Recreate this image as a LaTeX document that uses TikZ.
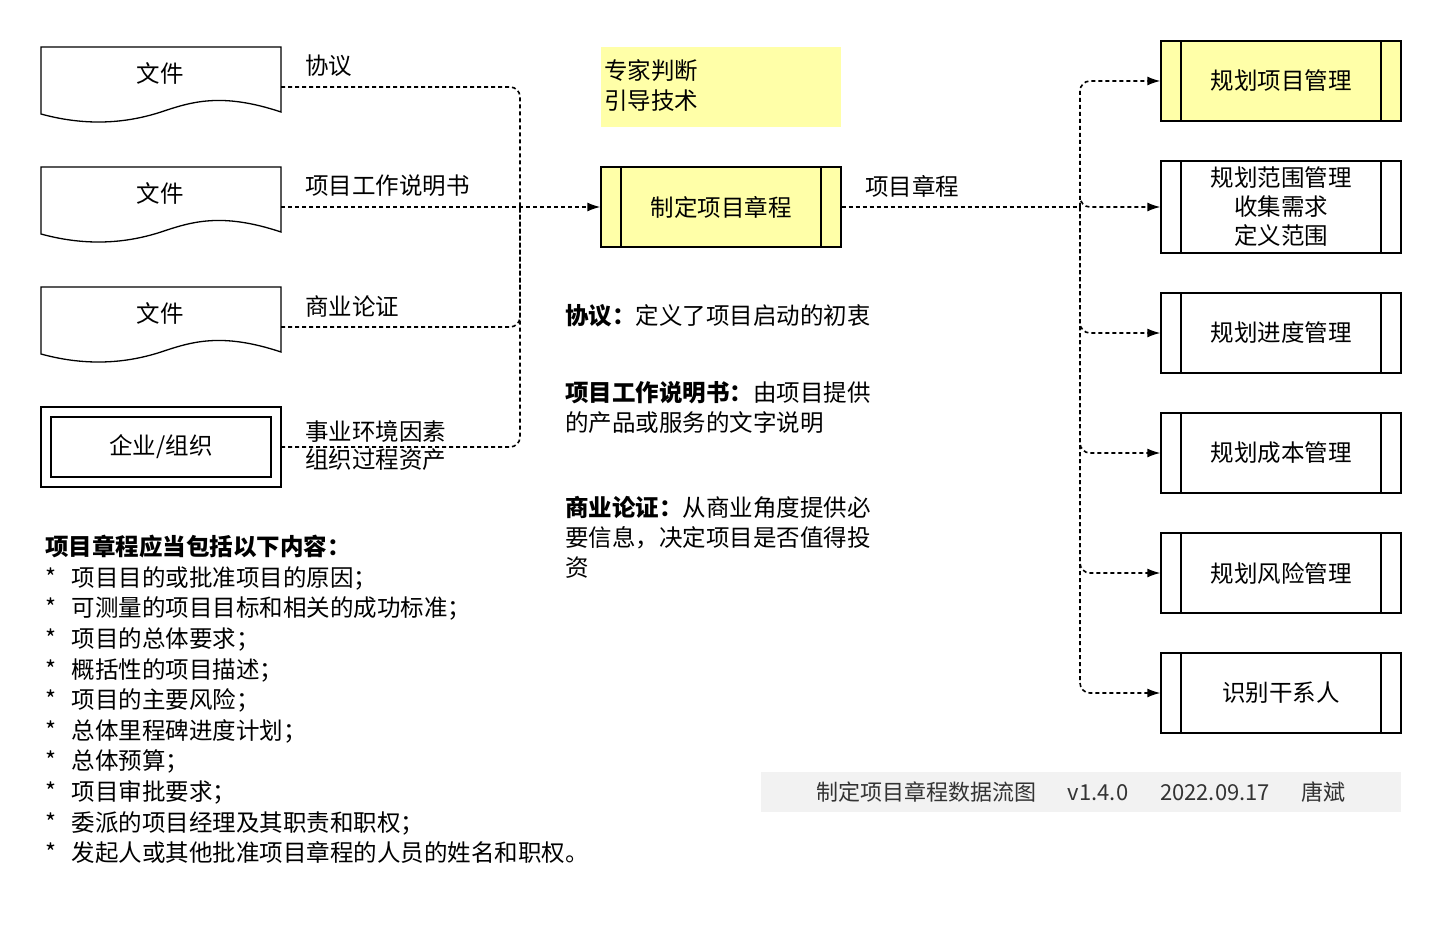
\documentclass[tikz,border=0pt]{standalone}
\usepackage{fontspec}
\setmainfont{Noto Sans CJK SC}
\usetikzlibrary{arrows.meta}
\definecolor{ylw}{HTML}{FFFFA8}
\definecolor{ftr}{HTML}{F2F2F2}
\begin{document}
\begin{tikzpicture}[x=1pt,y=-1pt,font=\fontsize{23.5}{30}\selectfont,
  box/.style={draw,line width=1.3pt,minimum width=240pt,minimum height=80pt,inner sep=0},
  lbl/.style={anchor=west,inner sep=0},
  dl/.style={dash pattern=on 4pt off 3pt,line width=1.6pt,rounded corners=10pt},
  arr/.style={dl,-{Latex[length=13pt,width=9pt]}}]
\useasboundingbox (0,0) rectangle (1442,928);
% documents
\foreach \n/\y in {d1/47,d2/167,d3/287}{
  \draw[line width=1.3pt,fill=white] (41,\y) -- (281,\y) -- (281,\y+65)
    .. controls (221,\y+45) and (191,\y+55) .. (161,\y+65)
    .. controls (121,\y+78) and (81,\y+78) .. (41,\y+67) -- cycle;
  \node (\n) at (160,\y+26) {文件};
}
\node[box,minimum height=80pt] (ent) at (161,447) {};
\node[draw,line width=1.3pt,minimum width=220pt,minimum height=60pt] (enti) at (161,447) {企业/组织};
% labels
\node[lbl] (l1) at (305,66) {协议};
\node[lbl] (l2) at (305,186) {项目工作说明书};
\node[lbl] (l3) at (305,306) {商业论证};
\node[lbl,align=left,font=\fontsize{23.5}{28}\selectfont] (l4) at (305,446) {事业环境因素\\组织过程资产};
% expert
\node[fill=ylw,minimum width=240pt,minimum height=80pt] (exp) at (721,87) {};
\node[lbl,align=left] (expt) at (604,86) {专家判断\\引导技术};
% center
\node[box,fill=ylw] (c) at (721,207) {制定项目章程};
\draw[line width=1.3pt] (621,167) -- (621,247) (821,167) -- (821,247);
\node[lbl] (l5) at (865,186) {项目章程};
\coordinate (m) at (520,207);
\draw[dl] (281,87) -- (520,87) -- (m);
\draw[dl] (281,327) -- (520,327) -- (m);
\draw[dl] (281,447) -- (520,447) -- (m);
\draw[arr] (281,207) -- (c.west);
% right boxes
\coordinate (r) at (1080,207);
\draw[dl] (c.east) -- (r);
\foreach \n/\y/\h/\t/\f in {o1/81/80/规划项目管理/ylw,o2/207/92/{规划范围管理\\收集需求\\定义范围}/white,o3/333/80/规划进度管理/white,o4/453/80/规划成本管理/white,o5/573/80/规划风险管理/white,o6/693/80/识别干系人/white}{
  \node[box,fill=\f,align=center,font=\fontsize{23.5}{29}\selectfont,minimum height=\h pt] (\n) at (1281,\y) {\t};
  \draw[line width=1.3pt] (1181,\y-\h/2) -- (1181,\y+\h/2) (1381,\y-\h/2) -- (1381,\y+\h/2);
  \draw[arr] (r) -- (1080,\y) -- (\n.west);
}
% notes
\node[lbl] (n1) at (565,316) {\textbf{协议：}定义了项目启动的初衷};
\node[lbl,align=left] (n2) at (565,407) {\textbf{项目工作说明书：}由项目提供\\的产品或服务的文字说明};
\node[lbl,align=left] (n3) at (565,537) {\textbf{商业论证：}从商业角度提供必\\要信息，决定项目是否值得投\\资};
% list
\node[lbl,align=left,font=\fontsize{23.5}{30.6}\selectfont,anchor=north west] (lst) at (45,535) {\textbf{项目章程应当包括以下内容：}\\
*\ \ \ 项目目的或批准项目的原因；\\
*\ \ \ 可测量的项目目标和相关的成功标准；\\
*\ \ \ 项目的总体要求；\\
*\ \ \ 概括性的项目描述；\\
*\ \ \ 项目的主要风险；\\
*\ \ \ 总体里程碑进度计划；\\
*\ \ \ 总体预算；\\
*\ \ \ 项目审批要求；\\
*\ \ \ 委派的项目经理及其职责和职权；\\
*\ \ \ 发起人或其他批准项目章程的人员的姓名和职权。};
% footer
\node[fill=ftr,minimum width=640pt,minimum height=40pt,font=\fontsize{22}{26}\selectfont,text=black!80] (ft) at (1081,792) {制定项目章程数据流图\quad\ \ v1.4.0\quad\ \ 2022.09.17\quad\ \ 唐斌};
\end{tikzpicture}
\end{document}
